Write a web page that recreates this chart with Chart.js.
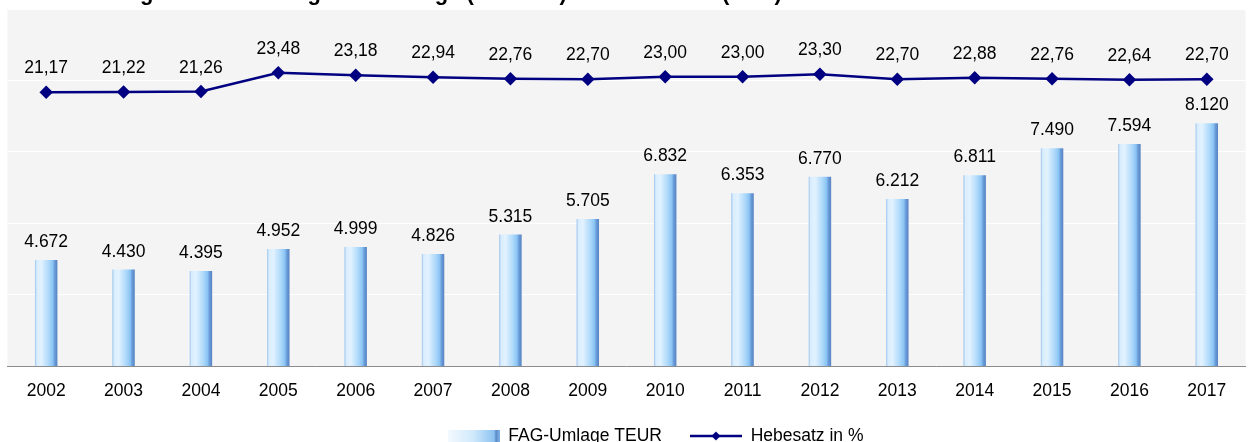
<!DOCTYPE html>
<html>
<head>
<meta charset="utf-8">
<script src="https://cdn.jsdelivr.net/npm/chart.js@4/dist/chart.umd.min.js"></script>
<style>
  html, body { margin: 0; padding: 0; background: #ffffff; }
  #wrap { width: 1253px; height: 442px; position: relative; }
</style>
</head>
<body>
<div id="wrap"><canvas id="c" width="1253" height="442"></canvas></div>
<script>
const years = ['2002','2003','2004','2005','2006','2007','2008','2009','2010','2011','2012','2013','2014','2015','2016','2017'];
const umlageTEUR = [4672,4430,4395,4952,4999,4826,5315,5705,6832,6353,6770,6212,6811,7490,7594,8120];
const hebesatz = [21.17,21.22,21.26,23.48,23.18,22.94,22.76,22.70,23.00,23.00,23.30,22.70,22.88,22.76,22.64,22.70];
const seriesNames = ['FAG-Umlage TEUR', 'Hebesatz in %'];
const titleText = 'Entwicklung der Finanzausgleichsumlage (in TEUR) und Hebesatz (in %)';

const FONT = '"Liberation Sans", Arial, Helvetica, sans-serif';
const LINE_COLOR = '#000080';

function addBarStops(g) {
  g.addColorStop(0.00, '#98c2ec');
  g.addColorStop(0.08, '#d9edfd');
  g.addColorStop(0.28, '#e2f2ff');
  g.addColorStop(0.62, '#acd8fa');
  g.addColorStop(0.80, '#89c3f3');
  g.addColorStop(0.87, '#6b9edb');
  g.addColorStop(1.00, '#5783c2');
}

function barFill(ctx) {
  const chart = ctx.chart;
  const xs = chart.scales && chart.scales.x;
  if (!xs || ctx.type !== 'data' || !chart.chartArea) return '#b8dcf8';
  const cx = xs.getPixelForValue(ctx.dataIndex);
  const w = xs.width / years.length * 0.29;
  const g = chart.ctx.createLinearGradient(cx - w / 2, 0, cx + w / 2, 0);
  addBarStops(g);
  return g;
}

function makeBarSwatch() {
  const c = document.createElement('canvas');
  c.width = 52; c.height = 12;
  const x = c.getContext('2d');
  const g = x.createLinearGradient(0, 0, 52, 0);
  g.addColorStop(0, '#f4faff');
  g.addColorStop(0.5, '#d0e9fc');
  g.addColorStop(0.9, '#8cc2f1');
  g.addColorStop(0.93, '#5a88c6');
  g.addColorStop(1, '#7fb2e6');
  x.fillStyle = g;
  x.fillRect(0, 0, 52, 12);
  return c;
}
function makeLineSwatch() {
  const c = document.createElement('canvas');
  c.width = 52; c.height = 12;
  const x = c.getContext('2d');
  x.strokeStyle = LINE_COLOR; x.lineWidth = 2.5;
  x.beginPath(); x.moveTo(0, 6); x.lineTo(52, 6); x.stroke();
  x.fillStyle = LINE_COLOR;
  x.beginPath(); x.moveTo(26, 1.5); x.lineTo(30.5, 6); x.lineTo(26, 10.5); x.lineTo(21.5, 6); x.closePath(); x.fill();
  return c;
}

const deNum = new Intl.NumberFormat('de-DE', {maximumFractionDigits: 0});
const dePct = new Intl.NumberFormat('de-DE', {minimumFractionDigits: 2, maximumFractionDigits: 2});

const bgPlugin = {
  id: 'bgPlugin',
  afterLayout(chart) {
    // the reference legend sits a little right of the canvas centre
    if (chart.legend) { chart.legend.left += 28; chart.legend.right += 28; }
  },
  beforeDraw(chart) {
    const {ctx, chartArea: a} = chart;
    ctx.save();
    ctx.fillStyle = '#ffffff';
    ctx.fillRect(0, 0, chart.width, chart.height);
    ctx.fillStyle = '#f4f4f4';
    ctx.fillRect(a.left, a.top, a.right - a.left, a.bottom - a.top);
    // title sits above the frame; only its descenders reach into view
    ctx.fillStyle = '#000000';
    ctx.font = 'bold 22px ' + FONT;
    ctx.textAlign = 'left';
    ctx.textBaseline = 'alphabetic';
    ctx.fillText(titleText, 24, -0.5);
    ctx.restore();
  }
};

const labelPlugin = {
  id: 'labelPlugin',
  afterDatasetsDraw(chart) {
    const ctx = chart.ctx;
    ctx.save();
    ctx.fillStyle = '#000000';
    ctx.font = '17.5px ' + FONT;
    ctx.textAlign = 'center';
    ctx.textBaseline = 'alphabetic';
    chart.data.datasets.forEach((ds, di) => {
      const meta = chart.getDatasetMeta(di);
      meta.data.forEach((el, i) => {
        const v = ds.data[i];
        if (ds.type === 'bar') {
          ctx.fillText(deNum.format(v), el.x, el.y - 13);
        } else {
          ctx.fillText(dePct.format(v), el.x, el.y - 19);
        }
      });
    });
    ctx.restore();
  }
};

new Chart(document.getElementById('c'), {
  data: {
    labels: years,
    datasets: [
      {
        type: 'bar',
        label: seriesNames[0],
        data: umlageTEUR,
        yAxisID: 'y',
        backgroundColor: barFill,
        borderWidth: 0,
        categoryPercentage: 1,
        barPercentage: 0.29,
        order: 2
      },
      {
        type: 'line',
        label: seriesNames[1],
        data: hebesatz,
        yAxisID: 'y2',
        borderColor: LINE_COLOR,
        backgroundColor: LINE_COLOR,
        borderWidth: 2.5,
        pointStyle: 'rectRot',
        pointRadius: 5,
        pointBackgroundColor: LINE_COLOR,
        pointBorderColor: LINE_COLOR,
        tension: 0,
        order: 1
      }
    ]
  },
  options: {
    responsive: false,
    animation: false,
    devicePixelRatio: 1,
    layout: { padding: { left: 7, right: 5, top: 9, bottom: -12.75 } },
    plugins: {
      title: { display: false },
      tooltip: { enabled: false },
      legend: {
        position: 'bottom',
        labels: {
          usePointStyle: true,
          pointStyleWidth: 52,
          boxHeight: 12,
          padding: 28,
          color: '#000000',
          font: { family: FONT, size: 17.5 },
          generateLabels(chart) {
            return [
              { text: seriesNames[0], pointStyle: makeBarSwatch(), fillStyle: '#c4e3fb', strokeStyle: '#c4e3fb', lineWidth: 0, hidden: false, datasetIndex: 0, fontColor: '#000000' },
              { text: seriesNames[1], pointStyle: makeLineSwatch(), fillStyle: LINE_COLOR, strokeStyle: LINE_COLOR, lineWidth: 0, hidden: false, datasetIndex: 1, fontColor: '#000000' }
            ];
          }
        }
      }
    },
    scales: {
      x: {
        grid: { display: false, drawTicks: false },
        border: { display: true, color: '#8c8c8c', width: 1 },
        ticks: { color: '#000000', font: { family: FONT, size: 17.5 }, padding: 15, maxRotation: 0, autoSkip: false },
        afterFit(scale) { scale.height = 33.25; }
      },
      y: {
        position: 'left',
        min: 2000,
        max: 11000,
        ticks: { display: false, stepSize: 2000 },
        grid: { color: '#ffffff', lineWidth: 1, drawTicks: false },
        border: { display: false }
      },
      y2: {
        position: 'right',
        display: false,
        min: -11.08,
        max: 30.99
      }
    }
  },
  plugins: [bgPlugin, labelPlugin]
});
</script>
</body>
</html>
